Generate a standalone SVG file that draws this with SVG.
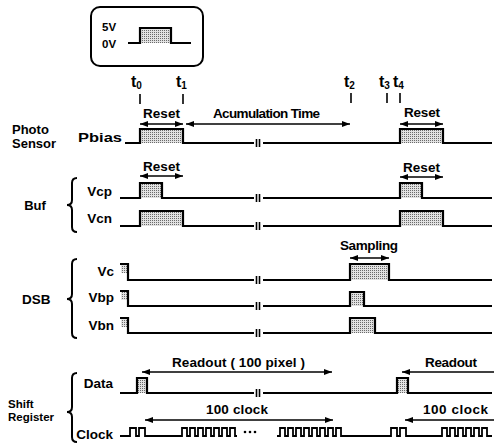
<svg xmlns="http://www.w3.org/2000/svg" width="494" height="447" viewBox="0 0 494 447">
<style>
.t{font-family:"Liberation Sans",Arial,Helvetica,sans-serif;font-weight:bold;font-size:13.5px;fill:#000}
.s{font-size:11.5px}
.l{font-size:13px}
.sr{font-size:11.5px}
.e{text-anchor:end}
.m{text-anchor:middle}
.tt{font-size:16px}
.sig{fill:none;stroke:#000;stroke-width:2.2;stroke-linejoin:miter}
.clk{fill:none;stroke:#000;stroke-width:1.8}
.sh{fill:url(#dots);stroke:none}
.arr{fill:none;stroke:#000;stroke-width:1.6;marker-start:url(#ah);marker-end:url(#ah)}
.arr1{fill:none;stroke:#000;stroke-width:1.6;marker-start:url(#ah)}
.brk{stroke:#000;stroke-width:1.6}
.brace{fill:none;stroke:#000;stroke-width:2}
.tick{stroke:#000;stroke-width:1.6}
</style>
<defs>
<pattern id="dots" width="2" height="2" patternUnits="userSpaceOnUse">
<rect width="2" height="2" fill="#e2e2e2"/>
<rect width="1" height="1" fill="#6a6a6a"/>
</pattern>
<marker id="ah" viewBox="0 0 8 6" refX="8" refY="3" markerWidth="8" markerHeight="6" markerUnits="userSpaceOnUse" orient="auto-start-reverse">
<path d="M0,0 L8,3 L0,6 z" fill="#000"/>
</marker>
</defs>
<rect width="494" height="447" fill="#fff"/>

<g id="legend">
<rect x="91" y="7" width="112" height="59" rx="9" fill="none" stroke="#000" stroke-width="2"/>
<text class="t s" x="102" y="31">5V</text>
<text class="t s" x="102" y="48">0V</text>
<rect class="sh" x="140" y="28" width="31" height="15"/>
<path class="sig" d="M128 43 H140 V28 H171 V43 H191"/>
</g>

<g id="time-markers">
<text class="t tt" x="131" y="87">t<tspan font-size="10" dy="2">0</tspan></text>
<text class="t tt" x="176" y="87">t<tspan font-size="10" dy="2">1</tspan></text>
<text class="t tt" x="344" y="87">t<tspan font-size="10" dy="2">2</tspan></text>
<text class="t tt" x="379" y="87">t<tspan font-size="10" dy="2">3</tspan></text>
<text class="t tt" x="393" y="87">t<tspan font-size="10" dy="2">4</tspan></text>
<line class="tick" x1="140" y1="94" x2="140" y2="104"/>
<line class="tick" x1="183" y1="94" x2="183" y2="104"/>
<line class="tick" x1="351" y1="93" x2="351" y2="103"/>
<line class="tick" x1="387" y1="93" x2="387" y2="103"/>
<line class="tick" x1="400" y1="93" x2="400" y2="103"/>
</g>

<g id="photo-sensor">
<text class="t l" x="12" y="134">Photo</text>
<text class="t l" x="12" y="148">Sensor</text>
<text class="t" x="78" y="142" textLength="44" lengthAdjust="spacingAndGlyphs">Pbias</text>
<rect class="sh" x="140" y="129" width="43" height="14"/>
<rect class="sh" x="400" y="129" width="43" height="14"/>
<path class="sig" d="M125 143 H140 V129 H183 V143 H254 M263 143 H400 V129 H443 V143 H492"/>
<line class="brk" x1="256.5" y1="139" x2="256.5" y2="147"/><line class="brk" x1="259.5" y1="139" x2="259.5" y2="147"/>
</g>

<g id="buf">
<path class="brace" d="M77 178 Q72 178 72 183 L72 200 Q72 205 67 205 Q72 205 72 210 L72 227 Q72 232 77 232"/>
<text class="t l m" x="35" y="210">Buf</text>
<text class="t e" x="112" y="196">Vcp</text>
<text class="t e" x="112" y="223">Vcn</text>
<rect class="sh" x="140" y="183" width="22" height="15"/>
<rect class="sh" x="400" y="183" width="22" height="15"/>
<rect class="sh" x="140" y="211" width="43" height="15"/>
<rect class="sh" x="400" y="211" width="43" height="15"/>
<path class="sig" d="M120 198 H140 V183 H162 V198 H254 M263 198 H400 V183 H422 V198 H492"/>
<path class="sig" d="M120 226 H140 V211 H183 V226 H254 M263 226 H400 V211 H443 V226 H492"/>
<line class="brk" x1="256.5" y1="194" x2="256.5" y2="202"/><line class="brk" x1="259.5" y1="194" x2="259.5" y2="202"/>
<line class="brk" x1="256.5" y1="222" x2="256.5" y2="230"/><line class="brk" x1="259.5" y1="222" x2="259.5" y2="230"/>
</g>

<g id="dsb">
<path class="brace" d="M77 259 Q72 259 72 264 L72 294 Q72 299 67 299 Q72 299 72 304 L72 333 Q72 338 77 338"/>
<text class="t" x="22" y="304">DSB</text>
<text class="t e" x="114" y="276">Vc</text>
<text class="t e" x="114" y="302">Vbp</text>
<text class="t e" x="114" y="330">Vbn</text>
<rect class="sh" x="121" y="264" width="7" height="9"/>
<rect class="sh" x="121" y="291" width="7" height="9"/>
<rect class="sh" x="121" y="318" width="7" height="9"/>
<rect class="sh" x="350" y="264" width="39" height="16"/>
<rect class="sh" x="350" y="292" width="14" height="14"/>
<rect class="sh" x="350" y="318" width="25" height="15"/>
<path class="sig" d="M120 264 H128 V280 H254 M263 280 H350 V264 H389 V280 H492"/>
<path class="sig" d="M120 291 H128 V306 H254 M263 306 H350 V292 H364 V306 H492"/>
<path class="sig" d="M120 318 H128 V333 H254 M263 333 H350 V318 H375 V333 H492"/>
<line class="brk" x1="256.5" y1="276" x2="256.5" y2="284"/><line class="brk" x1="259.5" y1="276" x2="259.5" y2="284"/>
<line class="brk" x1="256.5" y1="302" x2="256.5" y2="310"/><line class="brk" x1="259.5" y1="302" x2="259.5" y2="310"/>
<line class="brk" x1="256.5" y1="329" x2="256.5" y2="337"/><line class="brk" x1="259.5" y1="329" x2="259.5" y2="337"/>
</g>

<g id="shift-register">
<path class="brace" d="M77 373 Q72 373 72 378 L72 407 Q72 412 67 412 Q72 412 72 417 L72 437 Q72 442 77 442"/>
<text class="t sr" x="8" y="408">Shift</text>
<text class="t sr" x="8" y="421">Register</text>
<text class="t e" x="113" y="388">Data</text>
<text class="t e" x="113" y="439">Clock</text>
<rect class="sh" x="137" y="378" width="10" height="15"/>
<rect class="sh" x="397" y="378" width="11" height="15"/>
<path class="sig" d="M120 393 H137 V378 H147 V393 H254 M263 393 H397 V378 H408 V393 H492"/>
<line class="brk" x1="256.5" y1="389" x2="256.5" y2="397"/><line class="brk" x1="259.5" y1="389" x2="259.5" y2="397"/>
<path class="clk" d="M120 436 H130 V428 H136 V436 H139 V428 H145 V436 H182 V428 H187 V436 H190 V428 H195 V436 H198 V428 H203 V436 H206 V428 H211 V436 H214 V428 H219 V436 H222 V428 H227 V436 H230 V428 H235 V436 H237"/>
<path class="clk" d="M277 436 H280 V428 H285 V436 H288 V428 H293 V436 H296 V428 H301 V436 H304 V428 H309 V436 H312 V428 H317 V436 H320 V428 H325 V436 H328 V428 H333 V436 H336 V428 H341 V436 H391 V428 H397 V436 H400 V428 H406 V436 H442 V428 H447 V436 H450 V428 H455 V436 H458 V428 H463 V436 H466 V428 H471 V436 H474 V428 H479 V436 H482 V428 H487 V436 H492"/>
<circle cx="245" cy="432" r="1.3"/><circle cx="250" cy="432" r="1.3"/><circle cx="255" cy="432" r="1.3"/>
</g>

<g id="connectors">
<text class="t" x="143" y="118" textLength="37">Reset</text>
<path class="arr" d="M140 124 H183"/>
<text class="t" x="213" y="118" textLength="107">Acumulation Time</text>
<path class="arr" d="M186 124 H350"/>
<text class="t" x="404" y="117" textLength="36">Reset</text>
<path class="arr" d="M400 124 H443"/>
<text class="t" x="143" y="171" textLength="37">Reset</text>
<path class="arr" d="M140 176 H183"/>
<text class="t" x="403" y="172" textLength="37">Reset</text>
<path class="arr" d="M400 177 H443"/>
<text class="t" x="340" y="250" textLength="58">Sampling</text>
<path class="arr" d="M350 258 H389"/>
<text class="t" x="172" y="367" textLength="133">Readout ( 100 pixel )</text>
<path class="arr" d="M142 372 H332"/>
<text class="t" x="425" y="367" textLength="52">Readout</text>
<path class="arr1" d="M402 372 H494"/>
<text class="t" x="206" y="414" textLength="62">100 clock</text>
<path class="arr" d="M145 420 H333"/>
<text class="t" x="423" y="414" textLength="65">100 clock</text>
<path class="arr1" d="M405 420 H494"/>
</g>
</svg>
